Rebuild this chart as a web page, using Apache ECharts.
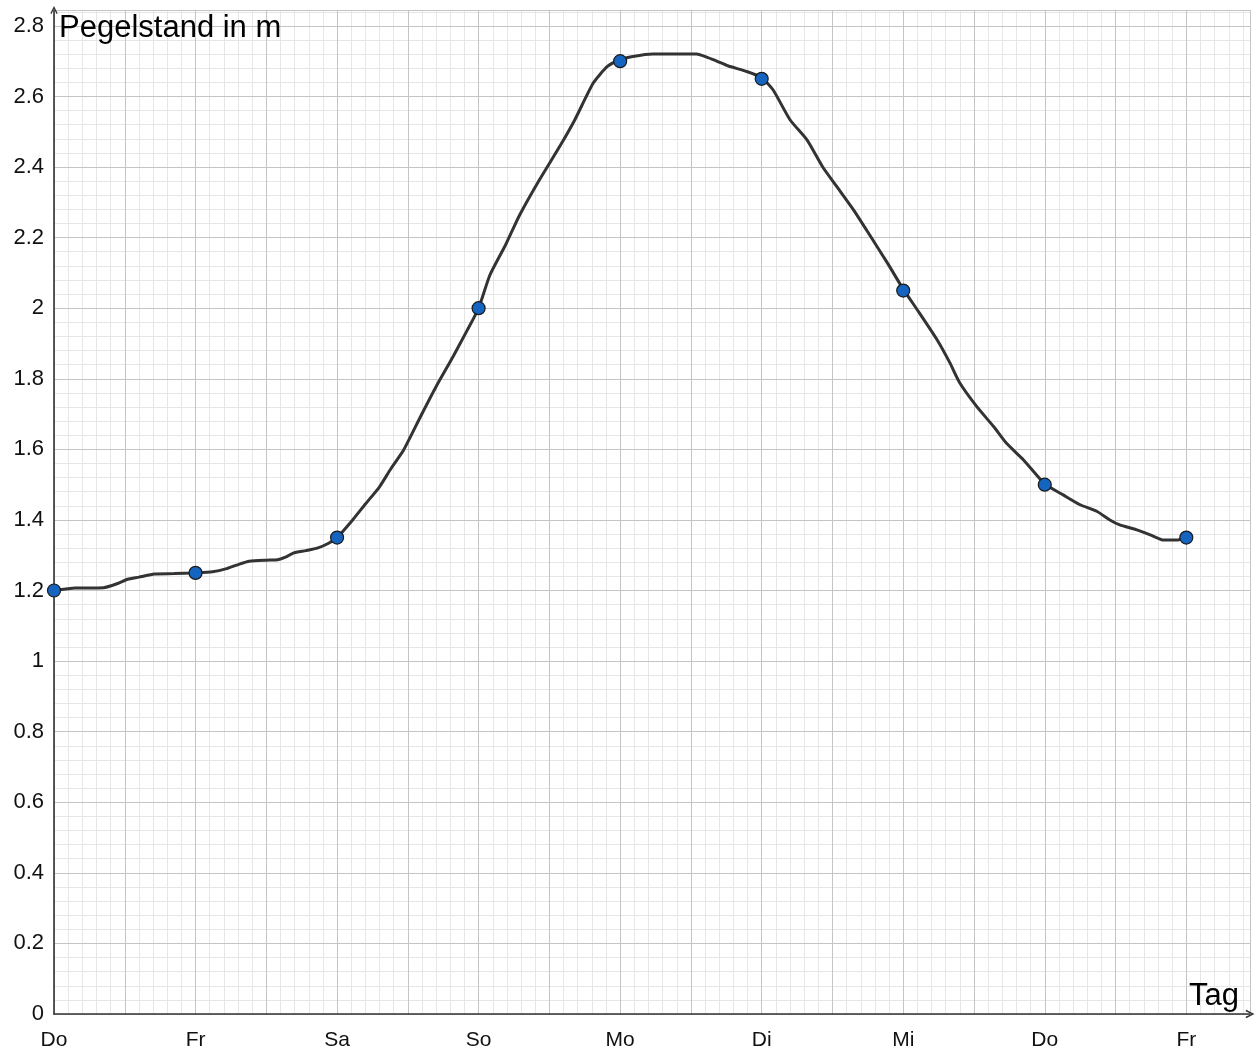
<!DOCTYPE html>
<html>
<head>
<meta charset="utf-8">
<script src="https://cdn.jsdelivr.net/npm/echarts@6/dist/echarts.min.js"></script>
<style>
html,body{margin:0;padding:0;background:#fff;}
#chart{width:1256px;height:1048px;}
</style>
</head>
<body>
<div id="chart"></div>
<script>
// Day labels at integer x positions
const dayLabels = ['Do', 'Fr', 'Sa', 'So', 'Mo', 'Di', 'Mi', 'Do', 'Fr'];

// Marked daily measurements
const pointDays = [0, 1, 2, 3, 4, 5, 6, 7, 8];
const pointValues = [1.2, 1.25, 1.35, 2.0, 2.7, 2.65, 2.05, 1.5, 1.35];

// Continuous gauge curve (days, metres)
const curveDays = [
  0, 0.15, 0.35, 0.45, 0.52, 0.6, 0.71, 0.85, 1.0,
  1.12, 1.22, 1.31, 1.38, 1.5, 1.58, 1.64, 1.69, 1.78, 1.86, 1.94, 2.0,
  2.11, 2.2, 2.3, 2.38, 2.47, 2.59, 2.7, 2.82, 2.92, 3.0,
  3.08, 3.19, 3.29, 3.43, 3.58, 3.68, 3.81, 3.91, 4.0,
  4.09, 4.23, 4.4, 4.54, 4.62, 4.69, 4.76, 4.9, 5.0,
  5.08, 5.2, 5.32, 5.43, 5.53, 5.65, 5.77, 5.89, 6.0,
  6.1, 6.24, 6.33, 6.4, 6.52, 6.64, 6.73, 6.85, 7.0,
  7.13, 7.25, 7.37, 7.46, 7.53, 7.65, 7.75, 7.84, 7.94, 8.0
];
const curveValues = [
  1.2, 1.207, 1.208, 1.22, 1.232, 1.238, 1.247, 1.248, 1.25,
  1.253, 1.262, 1.275, 1.283, 1.286, 1.287, 1.295, 1.306, 1.313, 1.32, 1.334, 1.35,
  1.40, 1.445, 1.494, 1.545, 1.598, 1.693, 1.778, 1.863, 1.938, 2.0,
  2.094, 2.179, 2.264, 2.364, 2.463, 2.534, 2.638, 2.685, 2.704,
  2.713, 2.72, 2.72, 2.72, 2.71, 2.699, 2.687, 2.67, 2.653,
  2.619, 2.534, 2.477, 2.401, 2.345, 2.278, 2.203, 2.127, 2.054,
  1.995, 1.91, 1.845, 1.788, 1.721, 1.664, 1.617, 1.57, 1.502,
  1.471, 1.443, 1.424, 1.40, 1.386, 1.372, 1.357, 1.343, 1.343, 1.351
];

const X_MAX = 8.45;
const Y_MAX = 2.845;

const curveData = curveDays.map((d, i) => [d, curveValues[i]]);
const pointData = pointDays.map((d, i) => [d, pointValues[i]]);

const chart = echarts.init(document.getElementById('chart'), null, {renderer: 'canvas'});
const FONT = "'Liberation Sans', Arial, sans-serif";
const arrowPath = 'path://M0,10 L5,0 L10,10 L8.4,10.9 L5,3.6 L1.6,10.9 Z';

const option = {
  animation: false,
  backgroundColor: '#ffffff',
  title: [
    {text: 'Pegelstand in m', left: 59, top: 13, padding: 0,
     textStyle: {fontFamily: FONT, fontSize: 31, fontWeight: 'normal', color: '#000'}},
    {text: 'Tag', left: 1189, top: 981, padding: 0,
     textStyle: {fontFamily: FONT, fontSize: 31, fontWeight: 'normal', color: '#000'}}
  ],
  grid: {left: 54, right: 6, top: 10, bottom: 34, containLabel: false, outerBoundsMode: 'none'},
  xAxis: [
    {
      type: 'value', min: 0, max: X_MAX, interval: 0.1, z: 0, position: 'bottom',
      axisLine: {show: false}, axisTick: {show: false}, axisLabel: {show: false},
      splitLine: {show: true, lineStyle: {color: '#e6e6e6', width: 1}}
    },
    {
      type: 'value', min: 0, max: X_MAX, interval: 0.5, z: 1, position: 'bottom',
      axisLine: {show: true, onZero: true, symbol: ['none', arrowPath], symbolSize: [15, 9],
        lineStyle: {color: '#333', width: 1.6}},
      axisTick: {show: false},
      axisLabel: {
        show: true, margin: 16, fontFamily: FONT, fontSize: 21, color: '#111',
        showMaxLabel: false,
        formatter: function (v) {
          const r = Math.round(v);
          if (Math.abs(v - r) < 1e-6 && r >= 0 && r < dayLabels.length) return dayLabels[r];
          return '';
        }
      },
      splitLine: {show: true, lineStyle: {color: '#c4c4c4', width: 1}}
    }
  ],
  yAxis: [
    {
      type: 'value', min: 0, max: Y_MAX, interval: 0.04, z: 0, position: 'left',
      axisLine: {show: false}, axisTick: {show: false}, axisLabel: {show: false},
      splitLine: {show: true, lineStyle: {color: '#e6e6e6', width: 1}}
    },
    {
      type: 'value', min: 0, max: Y_MAX, interval: 0.2, z: 1, position: 'left',
      axisLine: {show: true, onZero: true, symbol: ['none', arrowPath], symbolSize: [11, 8],
        lineStyle: {color: '#333', width: 1.6}},
      axisTick: {show: false},
      axisLabel: {
        show: true, margin: 10, fontFamily: FONT, fontSize: 22, color: '#111',
        showMaxLabel: false,
        formatter: function (v) {
          const k = Math.round(v / 0.2);
          if (Math.abs(v - k * 0.2) < 1e-6) return String(+(k * 0.2).toFixed(1));
          return '';
        }
      },
      splitLine: {show: true, lineStyle: {color: '#c4c4c4', width: 1}}
    }
  ],
  series: [
    {
      type: 'line', xAxisIndex: 1, yAxisIndex: 1, data: curveData,
      smooth: 0.2, showSymbol: false, z: 3,
      lineStyle: {color: '#333333', width: 3}
    },
    {
      type: 'scatter', xAxisIndex: 1, yAxisIndex: 1, data: pointData,
      symbol: 'circle', symbolSize: 13, z: 4,
      itemStyle: {color: '#1565c0', borderColor: '#1a1a1a', borderWidth: 1.2, opacity: 1}
    }
  ]
};
chart.setOption(option);
</script>
</body>
</html>
